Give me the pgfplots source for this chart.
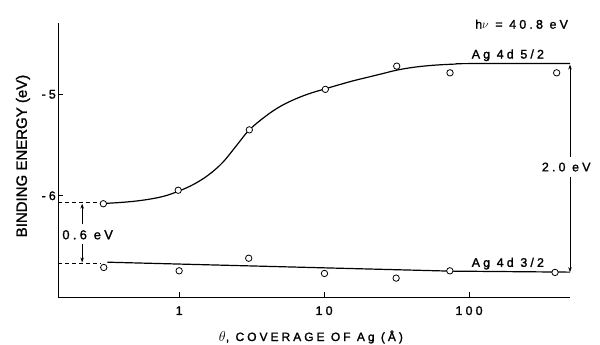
\documentclass[border=0pt]{standalone}
\usepackage{fontspec}
\setmainfont{Liberation Sans}[FakeBold=1.2]
\newfontfamily\tr[LetterSpace=25,FakeBold=1.5]{Liberation Sans}
\usepackage{pgfplots}
\pgfplotsset{compat=1.18}
\usetikzlibrary{arrows.meta}
\pgfplotstableread{
x y
0.30 -6.081
0.985 -5.948
3.05 -5.353
10.2 -4.954
31.7 -4.725
73.9 -4.791
402 -4.791
}\upperpts
\pgfplotstableread{
x y
0.302 -6.709
1.0 -6.742
3.02 -6.618
10.06 -6.768
31.4 -6.814
73.7 -6.742
392 -6.758
}\lowerpts
\pgfplotstableread{
x y
0.315 -6.077
0.398 -6.068
0.501 -6.055
0.631 -6.035
0.794 -6.005
1.0 -5.955
1.259 -5.89
1.585 -5.80
1.995 -5.675
2.512 -5.50
3.05 -5.353
3.981 -5.215
5.012 -5.12
6.31 -5.05
7.943 -4.995
10 -4.952
12.59 -4.91
15.85 -4.87
19.95 -4.835
25.12 -4.80
31.62 -4.765
39.81 -4.74
50.12 -4.723
63.1 -4.712
79.43 -4.705
100 -4.70
497 -4.70
}\uppercurve
\pgfplotstableread{
x y
0.32 -6.657
74 -6.745
497 -6.755
}\lowercurve
\begin{document}
\begin{tikzpicture}
\begin{axis}[
  name=ax, at={(0,0)}, anchor=south west,
  scale only axis, width=512pt, height=274pt,
  xmode=log, xmin=0.146, xmax=497, ymin=-7, ymax=-4.30,
  axis x line*=bottom, axis y line*=left,
  axis line style={line width=0.9pt},
  xtick={1,10,100}, xticklabels={1,10,100},
  ytick={-6,-5}, yticklabels={-6,-5},
  xminorticks=false, yminorticks=false,
  tick align=inside, major tick length=5pt,
  every tick/.style={line width=0.8pt, black},
  xticklabel style={font=\tr\fontsize{12.5}{14}\selectfont, anchor=base, yshift=-18pt, inner sep=0pt},
  yticklabel style={font=\tr\fontsize{12.5}{14}\selectfont, anchor=base east, xshift=-2pt, yshift=-4.5pt, inner sep=0pt},
  clip=false,
  xlabel={{\fontsize{15}{18}\selectfont$\theta$}{\tr, COVERAGE OF Ag (Å)}},
  xlabel style={font=\tr\fontsize{12}{14}\selectfont, at={(axis description cs:0.494,-0.1606)}, anchor=base, inner sep=0pt},
  ylabel={BINDING ENERGY (eV)},
  ylabel style={font=\fontsize{15}{18}\selectfont, at={(axis description cs:-0.0684,0.5146)}, anchor=center, inner sep=0pt},
]
\addplot[black, line width=1.2pt, smooth, tension=0.6] table {\uppercurve};
\addplot[black, line width=1.2pt] table {\lowercurve};
\addplot[only marks, mark=*, mark size=3.2pt, mark options={fill=white, draw=black, line width=0.8pt}] table {\upperpts};
\addplot[only marks, mark=*, mark size=3.2pt, mark options={fill=white, draw=black, line width=0.8pt}] table {\lowerpts};
% dashed reference lines
\draw[dash pattern=on 4pt off 3pt, line width=0.8pt] (0.146,-6.072) -- (0.285,-6.072);
\draw[dash pattern=on 4pt off 3pt, line width=0.8pt] (0.146,-6.667) -- (0.285,-6.667);
% 0.6 eV arrows
\draw[line width=0.7pt, -{Stealth[length=5pt,width=3.5pt]}] (0.2143,-6.284) -- (0.2143,-6.08);
\draw[line width=0.7pt, -{Stealth[length=5pt,width=3.5pt]}] (0.2143,-6.48) -- (0.2143,-6.66);
\node[anchor=base west, inner sep=0pt, font=\tr\fontsize{13}{15}\selectfont] at (0.156,-6.431) {0.6 eV};
% 2.0 eV arrows
\draw[line width=0.7pt, -{Stealth[length=5pt,width=3.5pt]}] (497,-5.618) -- (497,-4.71);
\draw[line width=0.7pt, -{Stealth[length=5pt,width=3.5pt]}] (497,-5.814) -- (497,-6.755);
\node[anchor=base west, inner sep=0pt, font=\tr\fontsize{12.5}{14}\selectfont] at (317,-5.762) {2.0 eV};
% labels
\node[anchor=base west, inner sep=0pt, font=\tr\fontsize{12.5}{15}\selectfont] at (104,-4.65) {Ag 4d 5/2};
\node[anchor=base west, inner sep=0pt, font=\tr\fontsize{12.5}{15}\selectfont] at (104,-6.703) {Ag 4d 3/2};
\node[anchor=base west, inner sep=0pt, font=\tr\fontsize{12.5}{15}\selectfont] at (110,-4.356) {h$\nu$ = 40.8 eV};
\end{axis}
\pgfresetboundingbox
\path[use as bounding box] (-58pt,-48pt) rectangle (542pt,297pt);
\end{tikzpicture}
\end{document}
